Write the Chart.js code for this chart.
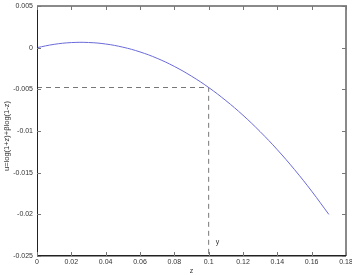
<!DOCTYPE html>
<html>
<head>
<meta charset="utf-8">
<script src="https://cdn.jsdelivr.net/npm/chart.js@4.4.1/dist/chart.umd.min.js"></script>
<style>
html,body{margin:0;padding:0;background:#fff;}
#wrap{width:352px;height:275px;position:relative;}
</style>
</head>
<body>
<div id="wrap"><canvas id="c" width="352" height="275"></canvas></div>
<script>
// Data
const zValues = [0, 0.01, 0.02, 0.03, 0.04, 0.05, 0.06, 0.07, 0.08, 0.09, 0.10, 0.11, 0.12, 0.13, 0.14, 0.15, 0.16, 0.17];
const uValues = [0, 0.0004, 0.00061, 0.00062, 0.00044, 0.00006, -0.00051, -0.00128, -0.00225, -0.00342, -0.00478, -0.00635, -0.00811, -0.01008, -0.01225, -0.01463, -0.01722, -0.02001];
const markerZ = 0.1;
const markerU = -0.00478;
const xTickValues = [0, 0.02, 0.04, 0.06, 0.08, 0.1, 0.12, 0.14, 0.16, 0.18];
const yTickValues = [-0.025, -0.02, -0.015, -0.01, -0.005, 0, 0.005];
const xTitle = 'z';
const yTitle = 'u=log(1+z)+βlog(1-z)';
const annotationText = 'y';

const curve = zValues.map((z, i) => ({x: z, y: uValues[i]}));
const fmt = v => String(Number(v.toFixed(4)));
const FONT = '"Liberation Sans", Arial, sans-serif';

const framePlugin = {
  id: 'frame',
  afterDraw(chart) {
    const ctx = chart.ctx, a = chart.chartArea;
    const xs = chart.scales.x, ys = chart.scales.y;
    ctx.save();
    ctx.strokeStyle = '#8a8a8a';
    ctx.lineWidth = 2;
    ctx.beginPath();
    ctx.moveTo(a.left, a.top); ctx.lineTo(a.right, a.top); ctx.lineTo(a.right, a.bottom);
    ctx.stroke();
    ctx.strokeStyle = '#222';
    ctx.lineWidth = 1;
    ctx.beginPath();
    ctx.moveTo(a.left + 0.5, a.top); ctx.lineTo(a.left + 0.5, a.bottom);
    ctx.stroke();
    ctx.lineWidth = 1.5;
    ctx.beginPath();
    ctx.moveTo(a.left, a.bottom - 0.25); ctx.lineTo(a.right, a.bottom - 0.25);
    ctx.stroke();
    ctx.strokeStyle = '#777';
    ctx.lineWidth = 1;
    const tl = 4;
    ctx.beginPath();
    xTickValues.forEach(v => {
      const px = Math.round(xs.getPixelForValue(v)) + 0.5;
      ctx.moveTo(px, a.bottom); ctx.lineTo(px, a.bottom - tl);
      ctx.moveTo(px, a.top); ctx.lineTo(px, a.top + tl);
    });
    yTickValues.forEach(v => {
      const py = Math.round(ys.getPixelForValue(v)) + 0.5;
      ctx.moveTo(a.left, py); ctx.lineTo(a.left + tl, py);
      ctx.moveTo(a.right, py); ctx.lineTo(a.right - tl, py);
    });
    ctx.stroke();
    ctx.fillStyle = '#333';
    ctx.font = '7px ' + FONT;
    ctx.textAlign = 'left';
    ctx.textBaseline = 'middle';
    ctx.fillText(annotationText, xs.getPixelForValue(markerZ) + 7, ys.getPixelForValue(-0.0233));
    ctx.save();
    ctx.font = '7.5px ' + FONT;
    ctx.translate(7, 136);
    ctx.rotate(-Math.PI / 2);
    ctx.textAlign = 'center';
    ctx.fillText(yTitle, 0, 0);
    ctx.restore();
    ctx.restore();
  }
};

new Chart(document.getElementById('c'), {
  type: 'scatter',
  data: {
    datasets: [
      {
        data: curve, showLine: true, borderColor: '#6a6ad8', borderWidth: 1,
        pointRadius: 0, tension: 0.4, fill: false, order: 1
      },
      {
        data: [{x: 0, y: markerU}, {x: markerZ, y: markerU}, {x: markerZ, y: -0.025}],
        showLine: true, borderColor: '#777', borderWidth: 1, borderDash: [5, 4],
        pointRadius: 0, tension: 0, fill: false, order: 2
      }
    ]
  },
  options: {
    responsive: false,
    animation: false,
    devicePixelRatio: 1,
    layout: {padding: {left: 0, right: 6, top: 6, bottom: 0}},
    plugins: {legend: {display: false}, tooltip: {enabled: false}},
    scales: {
      x: {
        type: 'linear', min: 0, max: 0.18,
        afterBuildTicks: s => { s.ticks = xTickValues.map(v => ({value: v})); },
        afterFit: s => { s.height = 19; s.paddingLeft = 0; s.paddingRight = 0; },
        grid: {display: false, drawTicks: false},
        border: {display: false},
        ticks: {padding: 2, maxRotation: 0, autoSkip: false, color: '#333',
                font: {family: FONT, size: 7}, callback: v => fmt(v)},
        title: {display: true, text: xTitle, color: '#333', padding: 0,
                font: {family: FONT, size: 7}}
      },
      y: {
        type: 'linear', min: -0.025, max: 0.005,
        afterBuildTicks: s => { s.ticks = yTickValues.map(v => ({value: v})); },
        afterFit: s => { s.width = 37; s.paddingTop = 0; s.paddingBottom = 0; },
        grid: {display: false, drawTicks: false},
        border: {display: false},
        ticks: {padding: 4, autoSkip: false, color: '#333',
                font: {family: FONT, size: 7}, callback: v => fmt(v)}
      }
    }
  },
  plugins: [framePlugin]
});
</script>
</body>
</html>
